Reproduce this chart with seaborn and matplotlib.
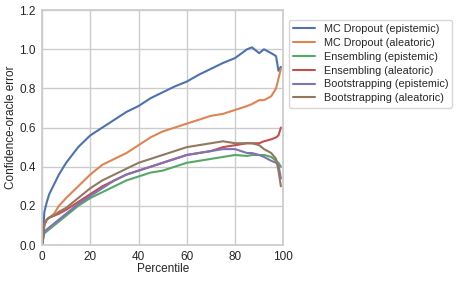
import matplotlib
matplotlib.use("Agg")
import matplotlib.pyplot as plt
import seaborn as sns
import pandas as pd

percentile = [0, 1, 2, 3, 5, 7, 10, 15, 20, 25, 30, 35, 40, 45, 50, 55, 60, 65, 70, 75, 80, 85, 87, 90, 92, 95, 97, 98, 99]

mc_epistemic = [0.0, 0.17, 0.22, 0.26, 0.31, 0.36, 0.42, 0.50, 0.56, 0.60, 0.64, 0.68, 0.71, 0.75, 0.78, 0.81, 0.835, 0.87, 0.90, 0.93, 0.955, 1.00, 1.01, 0.98, 1.00, 0.98, 0.965, 0.89, 0.91]
mc_aleatoric = [0.0, 0.10, 0.13, 0.14, 0.16, 0.20, 0.24, 0.30, 0.36, 0.41, 0.44, 0.47, 0.51, 0.55, 0.58, 0.60, 0.62, 0.64, 0.66, 0.67, 0.69, 0.71, 0.72, 0.74, 0.74, 0.76, 0.80, 0.85, 0.90]
ens_epistemic = [0.0, 0.06, 0.07, 0.08, 0.10, 0.12, 0.15, 0.20, 0.24, 0.27, 0.30, 0.33, 0.35, 0.37, 0.38, 0.40, 0.42, 0.43, 0.44, 0.45, 0.46, 0.455, 0.46, 0.46, 0.46, 0.45, 0.43, 0.42, 0.40]
ens_aleatoric = [0.0, 0.11, 0.13, 0.14, 0.15, 0.16, 0.18, 0.22, 0.26, 0.30, 0.33, 0.36, 0.38, 0.40, 0.42, 0.44, 0.46, 0.47, 0.48, 0.50, 0.51, 0.52, 0.52, 0.52, 0.53, 0.54, 0.55, 0.56, 0.60]
boot_epistemic = [0.0, 0.07, 0.08, 0.09, 0.11, 0.13, 0.16, 0.21, 0.25, 0.29, 0.33, 0.36, 0.38, 0.40, 0.42, 0.44, 0.46, 0.47, 0.48, 0.49, 0.49, 0.47, 0.47, 0.46, 0.45, 0.43, 0.42, 0.41, 0.34]
boot_aleatoric = [0.0, 0.11, 0.13, 0.14, 0.15, 0.17, 0.19, 0.24, 0.29, 0.33, 0.36, 0.39, 0.42, 0.44, 0.46, 0.48, 0.50, 0.51, 0.52, 0.53, 0.52, 0.52, 0.52, 0.51, 0.49, 0.47, 0.44, 0.38, 0.30]

labels = ["MC Dropout (epistemic)", "MC Dropout (aleatoric)", "Ensembling (epistemic)",
          "Ensembling (aleatoric)", "Bootstrapping (epistemic)", "Bootstrapping (aleatoric)"]
series = [mc_epistemic, mc_aleatoric, ens_epistemic, ens_aleatoric, boot_epistemic, boot_aleatoric]

rows = []
for lab, vals in zip(labels, series):
    for p, v in zip(percentile, vals):
        rows.append({"Percentile": p, "error": v, "method": lab})
df = pd.DataFrame(rows)

sns.set_theme(style="whitegrid", palette="deep")
plt.rcParams['font.family'] = ['Liberation Sans', 'DejaVu Sans']

fig = plt.figure(figsize=(4.57, 2.81), dpi=100)
ax = fig.add_axes([0.0919, 0.128, 0.528, 0.836])
sns.lineplot(data=df, x="Percentile", y="error", hue="method", hue_order=labels, ax=ax, linewidth=1.5)
ax.set_xlim(0, 100)
ax.set_ylim(0, 1.2)
ax.set_xticks([0, 20, 40, 60, 80, 100])
ax.set_yticks([0, 0.2, 0.4, 0.6, 0.8, 1.0, 1.2])
ax.tick_params(labelsize=8.5, pad=4.5, length=0)
ax.set_xlabel("Percentile", fontsize=8.5)
ax.set_ylabel("Confidence-oracle error", fontsize=8.5)
ax.yaxis.set_label_coords(-0.105, 0.5)
ax.xaxis.set_label_coords(0.5, -0.075)
ax.legend(loc="upper left", bbox_to_anchor=(1.01, 0.972), fontsize=7.8, frameon=True,
          handlelength=2.0, borderaxespad=0.3, labelspacing=0.35)
fig.savefig("out.png", dpi=100)
